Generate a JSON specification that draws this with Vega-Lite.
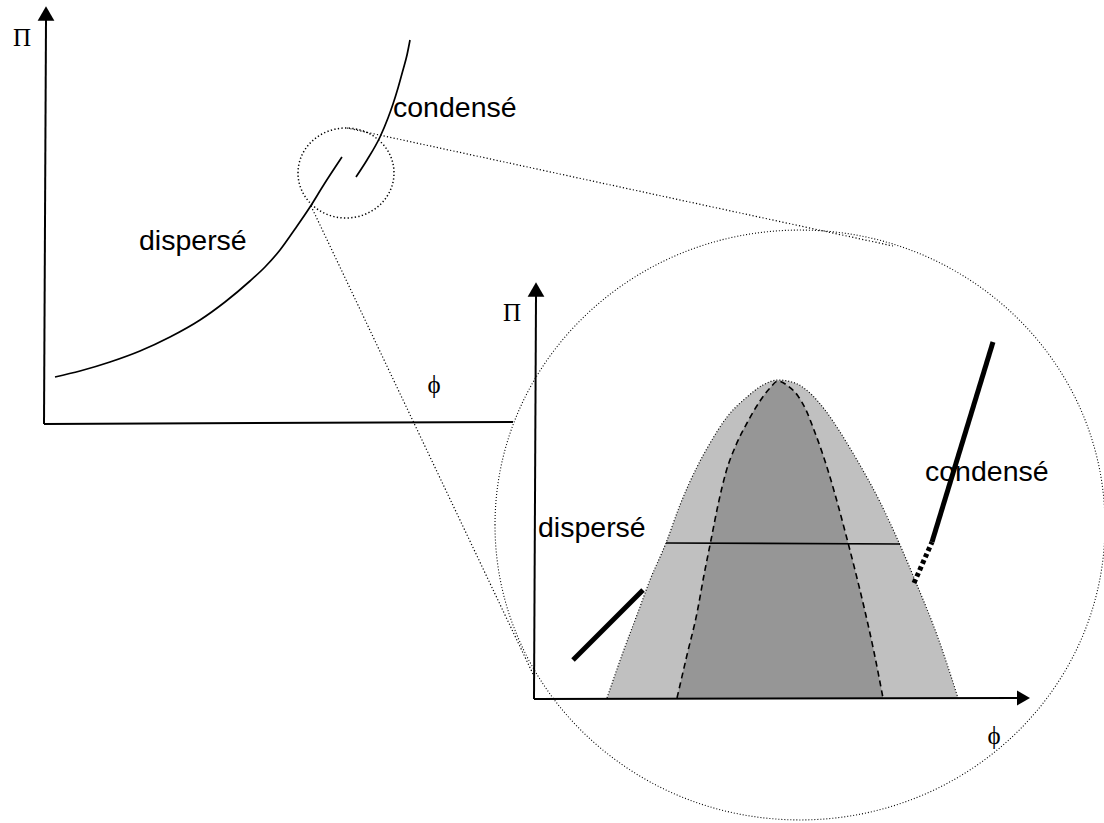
{
  "$schema": "https://vega.github.io/schema/vega-lite/v6.json",
  "width": 1104,
  "height": 823,
  "autosize": {"type": "none"},
  "padding": 0,
  "background": "white",
  "config": {"view": {"stroke": null}},
  "datasets": {
    "outer": [
      {"x": 607, "y": 698}, {"x": 622, "y": 655}, {"x": 637, "y": 615}, {"x": 650, "y": 580},
      {"x": 666, "y": 543}, {"x": 680, "y": 505}, {"x": 697, "y": 467}, {"x": 709, "y": 445},
      {"x": 727, "y": 417}, {"x": 747, "y": 397}, {"x": 763, "y": 385}, {"x": 778, "y": 380},
      {"x": 795, "y": 383}, {"x": 812, "y": 395}, {"x": 825, "y": 410}, {"x": 840, "y": 432},
      {"x": 857, "y": 460}, {"x": 880, "y": 502}, {"x": 900, "y": 545}, {"x": 917, "y": 585},
      {"x": 937, "y": 635}, {"x": 958, "y": 698}
    ],
    "inner": [
      {"x": 677, "y": 698}, {"x": 687, "y": 655}, {"x": 697, "y": 613}, {"x": 704, "y": 575},
      {"x": 711, "y": 540}, {"x": 718, "y": 505}, {"x": 726, "y": 472}, {"x": 736, "y": 445},
      {"x": 747, "y": 423}, {"x": 760, "y": 401}, {"x": 770, "y": 388}, {"x": 778, "y": 381},
      {"x": 788, "y": 386}, {"x": 798, "y": 396}, {"x": 806, "y": 410}, {"x": 814, "y": 430},
      {"x": 822, "y": 452}, {"x": 830, "y": 477}, {"x": 838, "y": 505}, {"x": 846, "y": 535},
      {"x": 855, "y": 570}, {"x": 864, "y": 607}, {"x": 874, "y": 652}, {"x": 883, "y": 698}
    ],
    "axes": [
      {"id": "mv", "x": 44, "y": 424}, {"id": "mv", "x": 46, "y": 20},
      {"id": "mh", "x": 44, "y": 424}, {"id": "mh", "x": 513, "y": 422},
      {"id": "iv", "x": 534, "y": 699}, {"id": "iv", "x": 536, "y": 296},
      {"id": "ih", "x": 534, "y": 699}, {"id": "ih", "x": 1017, "y": 698}
    ],
    "curves": [
      {"id": "disp", "x": 55, "y": 377}, {"id": "disp", "x": 80, "y": 371}, {"id": "disp", "x": 110, "y": 362},
      {"id": "disp", "x": 140, "y": 351}, {"id": "disp", "x": 170, "y": 337}, {"id": "disp", "x": 200, "y": 320},
      {"id": "disp", "x": 225, "y": 302}, {"id": "disp", "x": 250, "y": 281}, {"id": "disp", "x": 265, "y": 267},
      {"id": "disp", "x": 280, "y": 250}, {"id": "disp", "x": 295, "y": 229}, {"id": "disp", "x": 310, "y": 207},
      {"id": "disp", "x": 323, "y": 186}, {"id": "disp", "x": 342, "y": 157},
      {"id": "cond", "x": 356, "y": 177}, {"id": "cond", "x": 367, "y": 160}, {"id": "cond", "x": 380, "y": 137},
      {"id": "cond", "x": 388, "y": 118}, {"id": "cond", "x": 393, "y": 104}, {"id": "cond", "x": 398, "y": 88},
      {"id": "cond", "x": 403, "y": 70}, {"id": "cond", "x": 407, "y": 55}, {"id": "cond", "x": 410, "y": 40},
      {"id": "tie", "x": 666, "y": 543}, {"id": "tie", "x": 900, "y": 544}
    ],
    "thick": [
      {"id": "d", "x": 573, "y": 660}, {"id": "d", "x": 643, "y": 590},
      {"id": "c", "x": 932, "y": 542}, {"id": "c", "x": 993, "y": 342}
    ],
    "thickdots": [
      {"id": "c2", "x": 914, "y": 583}, {"id": "c2", "x": 932, "y": 542}
    ],
    "tangents": [
      {"id": "up", "x": 347, "y": 128}, {"id": "up", "x": 893, "y": 246},
      {"id": "lo", "x": 311, "y": 206}, {"id": "lo", "x": 533, "y": 674}
    ],
    "bigcircle": [{"x": 800, "y": 525}],
    "smallcircle": [{"x": 346, "y": 173}],
    "uparrows": [{"x": 46, "y": 13.5}, {"x": 536, "y": 289.5}],
    "rightarrows": [{"x": 1023.5, "y": 698}],
    "labels": [
      {"x": 393, "y": 117, "text": "condensé"},
      {"x": 139, "y": 250, "text": "dispersé"},
      {"x": 538, "y": 537, "text": "dispersé"},
      {"x": 925, "y": 481, "text": "condensé"}
    ],
    "pi": [{"x": 22, "y": 38, "text": "Π"}, {"x": 512, "y": 313, "text": "Π"}],
    "phi": [{"x": 434, "y": 385, "text": "ϕ"}, {"x": 994, "y": 736, "text": "ϕ"}]
  },
  "encoding": {
    "x": {"field": "x", "type": "quantitative", "scale": {"domain": [0, 1104], "nice": false, "zero": false}, "axis": null},
    "y": {"field": "y", "type": "quantitative", "scale": {"domain": [0, 823], "nice": false, "zero": false, "reverse": true}, "axis": null}
  },
  "layer": [
    {
      "data": {"name": "outer"},
      "mark": {"type": "area", "color": "#c0c0c0", "interpolate": "monotone", "opacity": 1},
      "encoding": {"y2": {"datum": 698}}
    },
    {
      "data": {"name": "inner"},
      "mark": {"type": "area", "color": "#969696", "interpolate": "monotone", "opacity": 1},
      "encoding": {"y2": {"datum": 698}}
    },
    {
      "data": {"name": "outer"},
      "mark": {"type": "line", "color": "black", "strokeWidth": 1.2, "strokeDash": [1, 2], "interpolate": "monotone"},
      "encoding": {}
    },
    {
      "data": {"name": "inner"},
      "mark": {"type": "line", "color": "black", "strokeWidth": 1.6, "strokeDash": [6, 4], "interpolate": "monotone"},
      "encoding": {}
    },
    {
      "data": {"name": "axes"},
      "mark": {"type": "line", "color": "black", "strokeWidth": 2},
      "encoding": {"detail": {"field": "id"}}
    },
    {
      "data": {"name": "curves"},
      "mark": {"type": "line", "color": "black", "strokeWidth": 1.7, "interpolate": "monotone"},
      "encoding": {"detail": {"field": "id"}}
    },
    {
      "data": {"name": "thick"},
      "mark": {"type": "line", "color": "black", "strokeWidth": 5},
      "encoding": {"detail": {"field": "id"}}
    },
    {
      "data": {"name": "thickdots"},
      "mark": {"type": "line", "color": "black", "strokeWidth": 5, "strokeDash": [4, 3]},
      "encoding": {"detail": {"field": "id"}}
    },
    {
      "data": {"name": "tangents"},
      "mark": {"type": "line", "color": "black", "strokeWidth": 1.2, "strokeDash": [1.2, 2.2]},
      "encoding": {"detail": {"field": "id"}}
    },
    {
      "data": {"name": "bigcircle"},
      "mark": {"type": "point", "shape": "M -1 0 A 1 0.967 0 1 1 1 0 A 1 0.967 0 1 1 -1 0 Z", "size": 372100, "filled": false, "stroke": "black", "strokeWidth": 1.1, "strokeDash": [1, 2], "opacity": 1}
    },
    {
      "data": {"name": "smallcircle"},
      "mark": {"type": "point", "shape": "M -1 0 A 1 0.9375 0 1 1 1 0 A 1 0.9375 0 1 1 -1 0 Z", "size": 9216, "filled": false, "stroke": "black", "strokeWidth": 1.5, "strokeDash": [1.3, 2.3], "opacity": 1}
    },
    {
      "data": {"name": "uparrows"},
      "mark": {"type": "point", "shape": "triangle-up", "size": 280, "filled": true, "color": "black", "opacity": 1}
    },
    {
      "data": {"name": "rightarrows"},
      "mark": {"type": "point", "shape": "triangle-right", "size": 225, "filled": true, "color": "black", "opacity": 1}
    },
    {
      "data": {"name": "labels"},
      "mark": {"type": "text", "font": "Liberation Sans", "fontSize": 28.5, "align": "left", "baseline": "alphabetic", "color": "black"},
      "encoding": {"text": {"field": "text"}}
    },
    {
      "data": {"name": "pi"},
      "mark": {"type": "text", "font": "Liberation Serif, DejaVu Serif", "fontSize": 25, "align": "center", "baseline": "middle", "color": "black"},
      "encoding": {"text": {"field": "text"}}
    },
    {
      "data": {"name": "phi"},
      "mark": {"type": "text", "font": "Liberation Serif, DejaVu Serif", "fontSize": 25, "align": "center", "baseline": "middle", "color": "black"},
      "encoding": {"text": {"field": "text"}}
    }
  ]
}
